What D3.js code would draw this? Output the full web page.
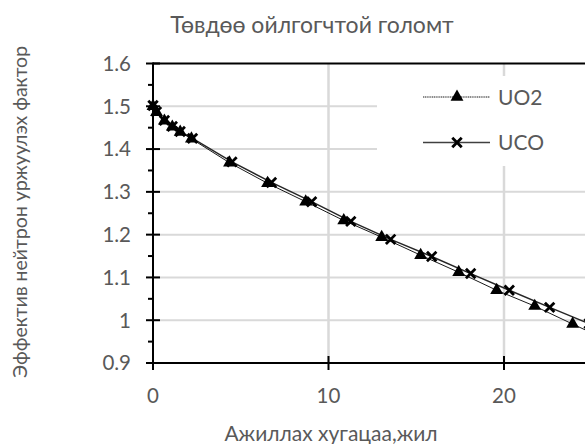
<!DOCTYPE html>
<html><head><meta charset="utf-8">
<script src="https://cdn.jsdelivr.net/npm/d3@7"></script>
<style>
html,body{margin:0;padding:0;background:#fff;overflow:hidden}
text{font-family:Lato,"Open Sans",sans-serif;fill:#595959}
</style></head>
<body>
<script>
const title = "Төвдөө ойлгогчтой голомт";
const xTitle = "Ажиллах хугацаа,жил";
const yTitle = "Эффектив нейтрон уржуулэх фактор";
const seriesNames = ["UO2", "UCO"];
const xTicks = [0, 10, 20];
const yTicks = [0.9, 1, 1.1, 1.2, 1.3, 1.4, 1.5, 1.6];
const uo2Years = [0, 0.2, 0.65, 1.1, 1.55, 2.19, 4.36, 6.53, 8.70, 10.87, 13.03, 15.25, 17.42, 19.58, 21.75, 23.91, 26.08];
const uo2K     = [1.500, 1.486, 1.466, 1.452, 1.440, 1.424, 1.368, 1.320, 1.277, 1.233, 1.194, 1.152, 1.112, 1.070, 1.033, 0.991, 0.950];
const ucoYears = [0, 0.2, 0.65, 1.1, 1.55, 2.25, 4.5, 6.75, 9.04, 11.27, 13.54, 15.88, 18.1, 20.3, 22.6, 24.85];
const ucoK     = [1.502, 1.487, 1.467, 1.453, 1.441, 1.425, 1.370, 1.322, 1.277, 1.231, 1.189, 1.149, 1.109, 1.070, 1.030, 0.992];

const W = 585, H = 444;
const svg = d3.select("body").append("svg").attr("width", W).attr("height", H);
const x = d3.scaleLinear().domain([0, 30]).range([153, 679.5]);
const y = d3.scaleLinear().domain([0.9, 1.6]).range([363, 63.5]);

// gridlines
svg.append("g").selectAll("line").data(yTicks.filter(d => d > 0.9 && d < 1.6)).join("line")
  .attr("x1", x(0)).attr("x2", x(30)).attr("y1", d => y(d)).attr("y2", d => y(d))
  .attr("stroke", "#d9d9d9").attr("stroke-width", 2);
svg.append("g").selectAll("line").data(xTicks.filter(d => d > 0)).join("line")
  .attr("x1", d => x(d)).attr("x2", d => x(d)).attr("y1", y(1.6)).attr("y2", y(0.9))
  .attr("stroke", "#d9d9d9").attr("stroke-width", 2.5);

// top border
svg.append("line").attr("x1", x(0)).attr("x2", x(30)).attr("y1", y(1.6)).attr("y2", y(1.6))
  .attr("stroke", "#000").attr("stroke-width", 2);

// series
const uo2 = uo2Years.map((d, i) => [d, uo2K[i]]);
const uco = ucoYears.map((d, i) => [d, ucoK[i]]);
const line = d3.line().x(d => x(d[0])).y(d => y(d[1]));
svg.append("path").datum(uco).attr("d", line).attr("fill", "none").attr("stroke", "#262626").attr("stroke-width", 1.5);
svg.append("path").datum(uo2).attr("d", line).attr("fill", "none").attr("stroke", "#000").attr("stroke-width", 0.9);

const tri = d3.symbol().type(d3.symbolTriangle).size(72);
const cross = d3.symbol().type(d3.symbolX).size(60);
svg.append("g").selectAll("path").data(uo2).join("path")
  .attr("d", tri).attr("transform", d => `translate(${x(d[0])},${y(d[1])})`).attr("fill", "#000");
svg.append("g").selectAll("path").data(uco).join("path")
  .attr("d", cross).attr("transform", d => `translate(${x(d[0])},${y(d[1])})`)
  .attr("fill", "none").attr("stroke", "#000").attr("stroke-width", 2.8);

// axes
const yAxisG = svg.append("g");
yAxisG.append("line").attr("x1", x(0)).attr("x2", x(0)).attr("y1", y(1.6) - 1).attr("y2", y(0.9) + 1)
  .attr("stroke", "#000").attr("stroke-width", 2);
yAxisG.selectAll(".maj").data(yTicks).join("line").attr("class", "maj")
  .attr("x1", x(0) - 7).attr("x2", x(0) + 7).attr("y1", d => y(d)).attr("y2", d => y(d))
  .attr("stroke", "#000").attr("stroke-width", 2);
const minors = yTicks.slice(0, -1).map(d => d + 0.05);
yAxisG.selectAll(".min").data(minors).join("line").attr("class", "min")
  .attr("x1", x(0) - 5).attr("x2", x(0)).attr("y1", d => y(d)).attr("y2", d => y(d))
  .attr("stroke", "#000").attr("stroke-width", 2);
yAxisG.selectAll("text").data(yTicks).join("text")
  .attr("x", 131).attr("y", d => y(d)).attr("dy", "0.36em").attr("text-anchor", "end")
  .attr("font-size", 20.5).text(d => d);

const xAxisG = svg.append("g");
xAxisG.append("line").attr("x1", x(0) - 7).attr("x2", x(30)).attr("y1", y(0.9)).attr("y2", y(0.9))
  .attr("stroke", "#000").attr("stroke-width", 2);
xAxisG.selectAll(".maj").data(xTicks).join("line").attr("class", "maj")
  .attr("x1", d => x(d)).attr("x2", d => x(d)).attr("y1", y(0.9) - 7).attr("y2", y(0.9) + 7)
  .attr("stroke", "#000").attr("stroke-width", 2);
xAxisG.selectAll("text").data(xTicks).join("text")
  .attr("x", d => x(d)).attr("y", 403).attr("text-anchor", "middle")
  .attr("font-size", 20.5).text(d => d);

// titles
svg.append("text").attr("x", 312).attr("y", 33).attr("text-anchor", "middle").attr("font-size", 23).text(title);
svg.append("text").attr("x", 331).attr("y", 441).attr("text-anchor", "middle").attr("font-size", 21).text(xTitle);
svg.append("text").attr("transform", `translate(27,212) rotate(-90)`)
  .attr("text-anchor", "middle").attr("font-size", 19.5).text(yTitle);

// legend
const lg = svg.append("g");
lg.append("rect").attr("x", 377).attr("y", 76).attr("width", 220).attr("height", 90).attr("fill", "#fff");
const rows = [
  {name: seriesNames[0], y: 97, sym: tri, fill: "#000", stroke: "none", sw: 0, lc: "#000", lw: 0.9, dash: "1.2,0.6"},
  {name: seriesNames[1], y: 142.5, sym: cross, fill: "none", stroke: "#000", sw: 2.8, lc: "#404040", lw: 1.5, dash: null}
];
rows.forEach(r => {
  lg.append("line").attr("x1", 423).attr("x2", 490).attr("y1", r.y).attr("y2", r.y)
    .attr("stroke", r.lc).attr("stroke-width", r.lw).attr("stroke-dasharray", r.dash);
  lg.append("path").attr("d", r.sym).attr("transform", `translate(457,${r.y})`)
    .attr("fill", r.fill).attr("stroke", r.stroke).attr("stroke-width", r.sw);
  lg.append("text").attr("x", 498).attr("y", r.y).attr("dy", "0.36em").attr("font-size", 21).text(r.name);
});
</script>
</body></html>
